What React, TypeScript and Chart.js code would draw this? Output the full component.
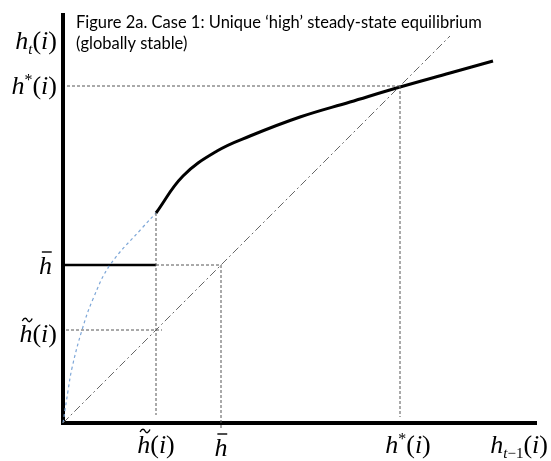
import React, { useEffect, useRef } from "react";
import { Chart, registerables } from "chart.js";

Chart.register(...registerables);

// Key levels (horizontal axis h_{t-1}(i), vertical axis h_t(i))
const H_TILDE = 0.93;
const H_BAR = 1.58;
const H_STAR = 3.37;
const X_MAX = 4.74;
const Y_MAX = 4.1;

// Upper (solid) branch of the transition function
const curveX = [0.93, 1.2, 1.54, 1.87, 2.37, 2.87, 3.37, 3.87, 4.3];
const curveY = [2.1, 2.47, 2.72, 2.87, 3.06, 3.21, 3.36, 3.5, 3.62];

// Hypothetical (blue dotted) continuation below threshold
const dottedX = [0, 0.05, 0.09, 0.19, 0.3, 0.47, 0.8, 0.93];
const dottedY = [0, 0.32, 0.55, 0.93, 1.24, 1.58, 1.96, 2.1];

// 45-degree line
const diagX = [0, 3.87];
const diagY = [0, 3.87];

const TITLE_LINES = [
  "Figure 2a. Case 1: Unique \u2018high\u2019 steady-state equilibrium",
  "(globally stable)",
];

const pts = (xs: number[], ys: number[]) => xs.map((x, i) => ({ x, y: ys[i] }));

type Run = { t: string; it?: boolean; size?: number; dy?: number };
type Accent = "bar" | "tilde" | null;

const SERIF = '"Liberation Serif", "DejaVu Serif", serif';

function drawMath(
  ctx: CanvasRenderingContext2D,
  runs: Run[],
  x: number,
  baseline: number,
  align: "left" | "right" | "center",
  accent: Accent
) {
  const base = 26;
  const widths = runs.map((r) => {
    ctx.font = `${r.it ? "italic " : ""}${r.size || base}px ${SERIF}`;
    return ctx.measureText(r.t).width;
  });
  const total = widths.reduce((a, b) => a + b, 0);
  let cx = align === "left" ? x : align === "right" ? x - total : x - total / 2;
  ctx.save();
  ctx.fillStyle = "#000";
  ctx.textBaseline = "alphabetic";
  ctx.textAlign = "left";
  runs.forEach((r, i) => {
    ctx.font = `${r.it ? "italic " : ""}${r.size || base}px ${SERIF}`;
    ctx.fillText(r.t, cx, baseline + (r.dy || 0));
    if (i === 0 && accent) {
      const w = widths[0];
      ctx.strokeStyle = "#000";
      ctx.lineWidth = 1.4;
      const y0 = baseline - 22;
      const xa = cx + w * 0.22;
      const xb = cx + w * 0.98;
      ctx.beginPath();
      if (accent === "bar") {
        ctx.moveTo(xa, y0);
        ctx.lineTo(xb, y0);
      } else {
        const mid = (xa + xb) / 2;
        ctx.moveTo(xa, y0 + 1);
        ctx.bezierCurveTo(xa + 2, y0 - 3, mid - 1, y0 - 2, mid, y0);
        ctx.bezierCurveTo(mid + 1, y0 + 2, xb - 2, y0 + 3, xb, y0 - 1.5);
      }
      ctx.stroke();
    }
    cx += widths[i];
  });
  ctx.restore();
}

const hOfI = (first: Run[]): Run[] => [
  ...first,
  { t: "(" },
  { t: "i", it: true },
  { t: ")" },
];

const labelsPlugin = {
  id: "mathLabels",
  afterDraw(chart: any) {
    const ctx = chart.ctx as CanvasRenderingContext2D;
    const xs = chart.scales.x;
    const ys = chart.scales.y;
    const x0 = xs.getPixelForValue(0);
    const y0 = ys.getPixelForValue(0);

    // Title
    ctx.save();
    ctx.fillStyle = "#000";
    ctx.font = '16.5px Lato, "Open Sans", sans-serif';
    ctx.textAlign = "left";
    ctx.textBaseline = "alphabetic";
    ctx.fillText(TITLE_LINES[0], 76, 28);
    ctx.fillText(TITLE_LINES[1], 76, 49);
    ctx.restore();

    // Vertical axis labels
    drawMath(ctx, hOfI([{ t: "h", it: true }, { t: "t", it: true, size: 15, dy: 5 }]), x0 - 6, 49, "right", null);
    drawMath(ctx, hOfI([{ t: "h", it: true }, { t: "*", size: 16, dy: -9 }]), x0 - 6, ys.getPixelForValue(H_STAR) + 8, "right", null);
    drawMath(ctx, [{ t: "h", it: true }], x0 - 11, ys.getPixelForValue(H_BAR) + 9, "right", "bar");
    drawMath(ctx, hOfI([{ t: "h", it: true }]), x0 - 6, ys.getPixelForValue(H_TILDE) + 12, "right", "tilde");

    // Horizontal axis labels
    const lb = y0 + 30;
    drawMath(ctx, hOfI([{ t: "h", it: true }]), xs.getPixelForValue(H_TILDE), lb, "center", "tilde");
    drawMath(ctx, [{ t: "h", it: true }], xs.getPixelForValue(H_BAR), lb + 3, "center", "bar");
    drawMath(ctx, hOfI([{ t: "h", it: true }, { t: "*", size: 16, dy: -9 }]), xs.getPixelForValue(H_STAR) + 8, lb, "center", null);
    drawMath(
      ctx,
      hOfI([
        { t: "h", it: true },
        { t: "t", it: true, size: 15, dy: 5 },
        { t: "\u22121", size: 15, dy: 5 },
      ]),
      548,
      lb,
      "right",
      null
    );
  },
};

export default function App() {
  const ref = useRef<HTMLCanvasElement | null>(null);

  useEffect(() => {
    if (!ref.current) return;
    const guide = (data: { x: number; y: number }[]) => ({
      data,
      borderColor: "#555",
      borderWidth: 1,
      borderDash: [3, 2],
      pointRadius: 0,
      showLine: true,
      clip: false as any,
    });
    const chart = new Chart(ref.current, {
      type: "scatter",
      data: {
        datasets: [
          // guides
          guide([{ x: 0.04, y: H_STAR }, { x: H_STAR, y: H_STAR }]),
          guide([{ x: H_STAR, y: H_STAR }, { x: H_STAR, y: 0.06 }]),
          guide([{ x: H_TILDE, y: 2.1 }, { x: H_TILDE, y: 0.08 }]),
          guide([{ x: H_TILDE, y: H_BAR }, { x: H_BAR, y: H_BAR }]),
          guide([{ x: H_BAR, y: H_BAR }, { x: H_BAR, y: -0.07 }]),
          guide([{ x: 0.03, y: H_TILDE }, { x: 0.99, y: H_TILDE }]),
          {
            data: pts(diagX, diagY),
            borderColor: "#666",
            borderWidth: 1,
            borderDash: [8, 3, 2, 3],
            pointRadius: 0,
            showLine: true,
            clip: false as any,
          },
          {
            data: pts(dottedX, dottedY),
            borderColor: "#7ea7d8",
            borderWidth: 1.2,
            borderDash: [3, 3],
            pointRadius: 0,
            showLine: true,
            tension: 0.4,
            clip: false as any,
          },
          {
            data: pts(curveX, curveY),
            borderColor: "#000",
            borderWidth: 3,
            pointRadius: 0,
            showLine: true,
            tension: 0.4,
            clip: false as any,
          },
          {
            data: [{ x: 0, y: H_BAR }, { x: H_TILDE, y: H_BAR }],
            borderColor: "#000",
            borderWidth: 2.5,
            pointRadius: 0,
            showLine: true,
            clip: false as any,
          },
          // axes
          {
            data: [{ x: -0.02, y: 0 }, { x: X_MAX, y: 0 }],
            borderColor: "#000",
            borderWidth: 4,
            pointRadius: 0,
            showLine: true,
            clip: false as any,
          },
          {
            data: [{ x: 0, y: -0.02 }, { x: 0, y: Y_MAX }],
            borderColor: "#000",
            borderWidth: 4,
            pointRadius: 0,
            showLine: true,
            clip: false as any,
          },
        ] as any,
      },
      options: {
        animation: false,
        responsive: true,
        maintainAspectRatio: false,
        layout: { padding: { left: 63, right: 14, top: 13, bottom: 38 } },
        scales: {
          x: { type: "linear", min: 0, max: X_MAX, display: false },
          y: { type: "linear", min: 0, max: Y_MAX, display: false },
        },
        plugins: { legend: { display: false }, tooltip: { enabled: false }, title: { display: false } },
        events: [],
      },
      plugins: [labelsPlugin],
    });
    return () => chart.destroy();
  }, []);

  return (
    <div style={{ position: "absolute", left: 0, top: 0, width: 551, height: 461, background: "#fff" }}>
      <canvas ref={ref} />
    </div>
  );
}
